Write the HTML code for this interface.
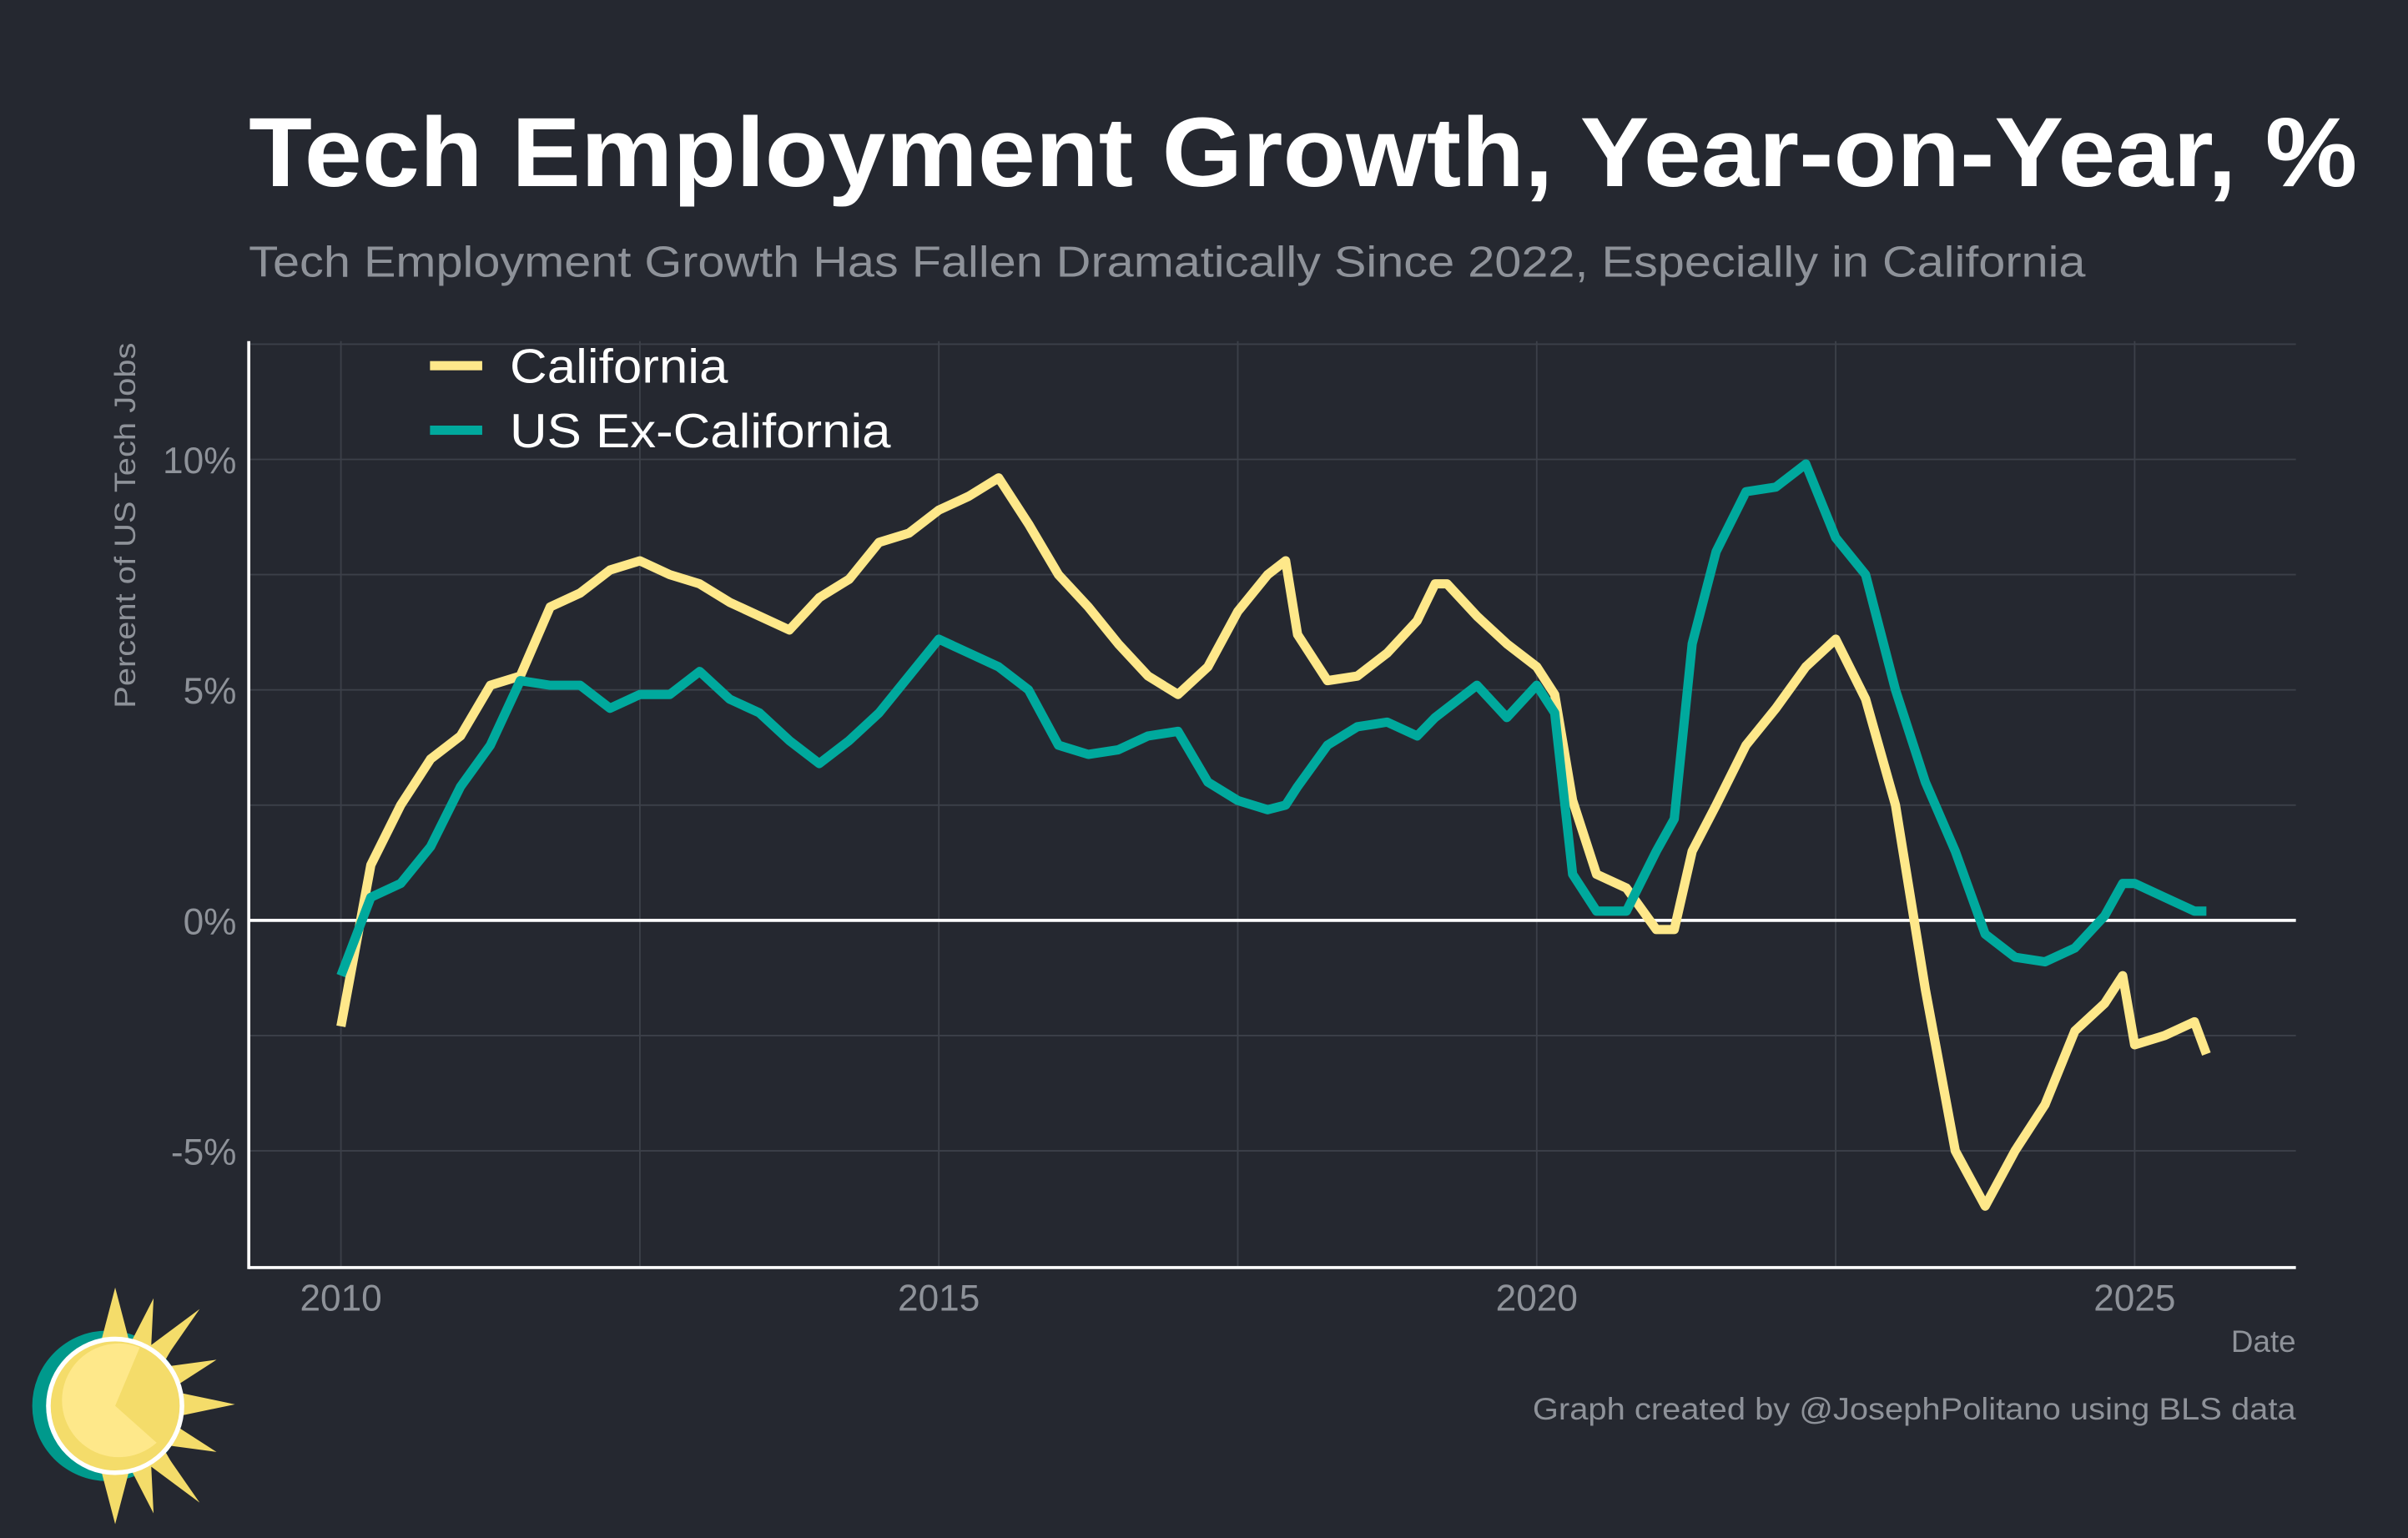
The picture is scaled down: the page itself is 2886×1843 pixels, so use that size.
<!DOCTYPE html>
<html><head><meta charset="utf-8"><style>
html,body{margin:0;padding:0;background:#252830;}
svg{display:block;font-family:"Liberation Sans",sans-serif;}
</style></head><body>
<svg id="chart" width="2886" height="1843" viewBox="0 0 1568 1001" preserveAspectRatio="none" xmlns="http://www.w3.org/2000/svg">
<rect width="1568" height="1001" fill="#252830"/>
<text x="162" y="121" font-size="64" font-weight="bold" fill="#ffffff" textLength="1373" lengthAdjust="spacingAndGlyphs">Tech Employment Growth, Year-on-Year, %</text>
<text x="162" y="180" font-size="28" fill="#8e9299" textLength="1196" lengthAdjust="spacingAndGlyphs">Tech Employment Growth Has Fallen Dramatically Since 2022, Especially in California</text>
<g id="grid"></g>
<g id="axes"></g>
<g id="series"></g>
<text transform="translate(88,342) rotate(-90)" text-anchor="middle" font-size="19" fill="#8e9299" textLength="238" lengthAdjust="spacingAndGlyphs">Percent of US Tech Jobs</text>
<text x="1495" y="880" text-anchor="end" font-size="20" fill="#8e9299">Date</text>
<text x="998" y="924" font-size="20" fill="#8e9299" textLength="497" lengthAdjust="spacingAndGlyphs">Graph created by @JosephPolitano using BLS data</text>
<g>
<rect x="280" y="235" width="34" height="6" fill="#fee88a"/>
<text x="332" y="249" font-size="31" fill="#ffffff" textLength="142" lengthAdjust="spacingAndGlyphs">California</text>
<rect x="280" y="277" width="34" height="6" fill="#00a99d"/>
<text x="332" y="291" font-size="31" fill="#ffffff" textLength="248" lengthAdjust="spacingAndGlyphs">US Ex-California</text>
</g>
<g>
<circle cx="70" cy="915" r="49" fill="#00998c"/>
<g fill="#f4dc6a">
<polygon points="75,838 86,880 64,880"/>
<polygon points="75,992 86,950 64,950"/>
<polygon points="153,914 110,905 110,923"/>
<polygon points="100,845 98,885 82,880"/>
<polygon points="100,985 98,945 82,950"/>
<polygon points="121,862 102,895 92,882"/>
<polygon points="121,968 102,935 92,948"/>
<polygon points="141,885 110,905 104,890"/>
<polygon points="141,945 110,925 104,940"/>
<polygon points="130,852 105,888 95,878"/>
<polygon points="130,978 105,942 95,952"/>
</g>
<circle cx="75" cy="915" r="45" fill="#ffffff"/>
<circle cx="75" cy="915" r="42" fill="#f4dc6a"/>
<path d="M75,915 L91,877 A37,37 0 1 0 102,939 Z" fill="#fee88a"/>
</g>
</svg>
<script>
const years = [2010,2010.25,2010.5,2010.75,2011,2011.25,2011.5,2011.75,2012,2012.25,2012.5,2012.75,2013,2013.25,2013.5,2013.75,2014,2014.25,2014.5,2014.75,2015,2015.25,2015.5,2015.75,2016,2016.25,2016.5,2016.75,2017,2017.25,2017.5,2017.75,2017.9,2018,2018.25,2018.5,2018.75,2019,2019.15,2019.25,2019.5,2019.75,2020,2020.15,2020.3,2020.5,2020.75,2021,2021.15,2021.3,2021.5,2021.75,2022,2022.25,2022.5,2022.75,2023,2023.25,2023.5,2023.75,2024,2024.25,2024.5,2024.75,2024.9,2025,2025.25,2025.5,2025.6];
const californiaValues = [-2.3,1.2,2.5,3.5,4.0,5.1,5.3,6.8,7.1,7.6,7.8,7.5,7.3,6.9,6.6,6.3,7.0,7.4,8.2,8.4,8.9,9.2,9.6,8.6,7.5,6.8,6.0,5.3,4.9,5.5,6.7,7.5,7.8,6.2,5.2,5.3,5.8,6.5,7.3,7.3,6.6,6.0,5.5,4.9,2.6,1.0,0.7,-0.2,-0.2,1.5,2.5,3.8,4.6,5.5,6.1,4.8,2.5,-1.5,-5.0,-6.2,-5.0,-4.0,-2.4,-1.8,-1.2,-2.7,-2.5,-2.2,-2.9];
const usExCaliforniaValues = [-1.2,0.5,0.8,1.6,2.9,3.8,5.2,5.1,5.1,4.6,4.9,4.9,5.4,4.8,4.5,3.9,3.4,3.9,4.5,5.3,6.1,5.8,5.5,5.0,3.8,3.6,3.7,4.0,4.1,3.0,2.6,2.4,2.5,2.9,3.8,4.2,4.3,4.0,4.4,4.6,5.1,4.4,5.1,4.5,1.0,0.2,0.2,1.5,2.2,6.0,8.0,9.3,9.4,9.9,8.3,7.5,5.0,3.0,1.5,-0.3,-0.8,-0.9,-0.6,0.1,0.8,0.8,0.5,0.2,0.2];
const yTickValues = [-5,0,5,10];
const yTickLabels = ["-5%","0%","5%","10%"];
const xTickValues = [2010,2015,2020,2025];
const xTickLabels = ["2010","2015","2020","2025"];

const NS="http://www.w3.org/2000/svg";
const L=162,R=1495,T=222,B=825;
function xs(v){return 222+(v-2010)*(1390-222)/15;}
function ys(v){return 599-v*30;}
function mk(tag,attrs,parent){const e=document.createElementNS(NS,tag);for(const k in attrs)e.setAttribute(k,attrs[k]);parent.appendChild(e);return e;}
const grid=document.getElementById('grid'),axes=document.getElementById('axes'),series=document.getElementById('series');
for(let v=-5;v<=12.5;v+=2.5){const y=ys(v);if(y<T||y>B)continue;
 const g=mk('line',{x1:L,x2:R,y1:y,y2:y,stroke:'#3c4049','stroke-width':1},grid);
 
 }
for(let v=2010;v<=2025;v+=2.5){const x=xs(v);
 const g=mk('line',{x1:x,x2:x,y1:T,y2:B,stroke:'#3c4049','stroke-width':1},grid);
 
 }
yTickValues.forEach((v,i)=>{const t=mk('text',{x:154,y:ys(v)+9,'text-anchor':'end','font-size':24,fill:'#8e9299'},axes);t.textContent=yTickLabels[i];
 
 });
xTickValues.forEach((v,i)=>{const t=mk('text',{x:xs(v),y:853,'text-anchor':'middle','font-size':24,fill:'#8e9299'},axes);t.textContent=xTickLabels[i];
 
 });
const zl=mk('line',{x1:L,x2:R,y1:ys(0),y2:ys(0),stroke:'#ffffff','stroke-width':2},axes);


const ya=mk('line',{x1:L,x2:L,y1:T,y2:B+1,stroke:'#ffffff','stroke-width':2},axes);


const xa=mk('line',{x1:L,x2:R,y1:B,y2:B,stroke:'#ffffff','stroke-width':2},axes);


function line(vals,color){return mk('polyline',{points:vals.map((v,i)=>xs(years[i]).toFixed(2)+','+ys(v).toFixed(2)).join(' '),fill:'none',stroke:color,'stroke-width':6,'stroke-linejoin':'round'},series);}
const ca=line(californiaValues,'#fee88a');


const us=line(usExCaliforniaValues,'#00a99d');


</script>
</body></html>
